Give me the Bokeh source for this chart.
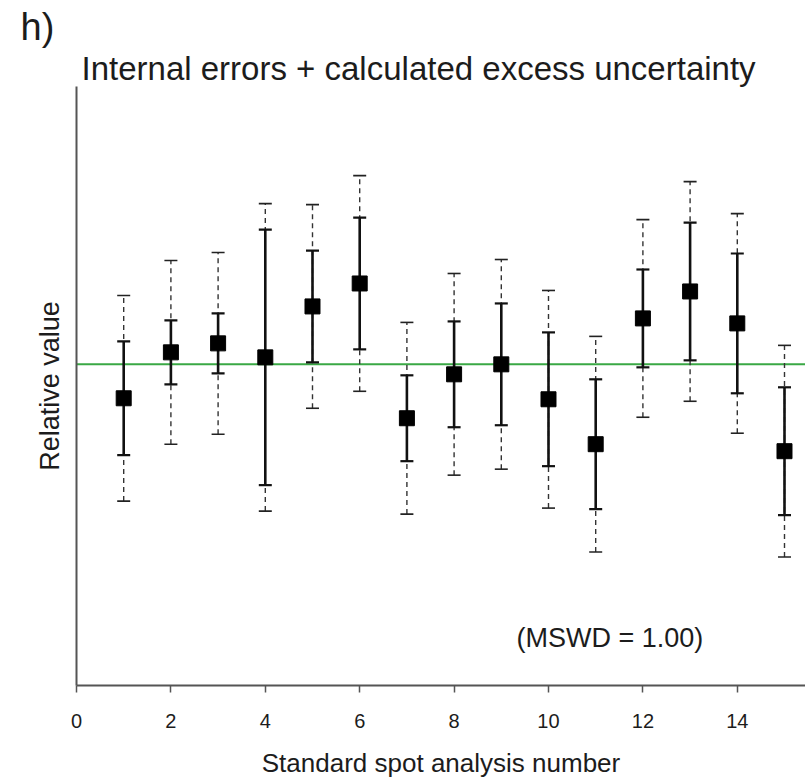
import math
from bokeh.plotting import figure
from bokeh.models import Label, Span, FixedTicker, ColumnDataSource, Range1d, Title
from bokeh.embed import file_html
from bokeh.resources import INLINE

# ---- data ----
spot = list(range(1, 16))
value = [0.966, 1.012, 1.021, 1.007, 1.058, 1.081, 0.946, 0.990,
         1.000, 0.965, 0.920, 1.046, 1.073, 1.041, 0.913]
internal_err = [0.057, 0.032, 0.030, 0.128, 0.056, 0.066, 0.043, 0.053,
                0.061, 0.067, 0.065, 0.049, 0.069, 0.070, 0.064]
total_err = [0.103, 0.092, 0.091, 0.154, 0.102, 0.108, 0.096, 0.101,
             0.105, 0.109, 0.108, 0.099, 0.110, 0.110, 0.106]
reference_value = 1.0
x_ticks = [0, 2, 4, 6, 8, 10, 12, 14]
title_text = "Internal errors + calculated excess uncertainty"
panel_text = "h)"
x_label = "Standard spot analysis number"
y_label = "Relative value"
mswd_text = "(MSWD = 1.00)"

X_END = 15.445
Y_MIN, Y_MAX = 0.6783, 1.2783

FONT = "Liberation Sans"
TXT = "#1c1c1c"

src = ColumnDataSource(dict(
    x=spot,
    y=value,
    in_lo=[v - e for v, e in zip(value, internal_err)],
    in_hi=[v + e for v, e in zip(value, internal_err)],
    tot_lo=[v - e for v, e in zip(value, total_err)],
    tot_hi=[v + e for v, e in zip(value, total_err)],
))

p = figure(width=805, height=780, output_backend="svg", toolbar_location=None,
           title=None,
           x_range=Range1d(0, X_END), y_range=Range1d(Y_MIN, Y_MAX),
           min_border_left=76, min_border_right=0, min_border_top=86,
           min_border_bottom=94)
p.outline_line_color = None
p.xgrid.visible = False
p.ygrid.visible = False
p.background_fill_color = "white"
p.border_fill_color = "white"

# titles (first added sits nearest the frame)
p.add_layout(Title(text=title_text, text_font=FONT, text_font_size="33px",
                   text_font_style="normal", text_color=TXT, align="left",
                   offset=5, standoff=0), "above")
p.add_layout(Title(text=panel_text, text_font=FONT, text_font_size="38px",
                   text_font_style="normal", text_color=TXT, align="left",
                   offset=-56, standoff=0), "above")

# x axis
p.xaxis.ticker = FixedTicker(ticks=x_ticks)
p.xaxis.minor_tick_line_color = None
p.xaxis.major_tick_in = 0
p.xaxis.major_tick_out = 7
p.xaxis.major_tick_line_color = "#555555"
p.xaxis.major_tick_line_width = 1.5
p.xaxis.axis_line_color = "#555555"
p.xaxis.axis_line_width = 2
p.xaxis.major_label_text_font = FONT
p.xaxis.major_label_text_font_size = "20px"
p.xaxis.major_label_text_color = TXT
p.xaxis.major_label_standoff = 21
p.xaxis.axis_label = x_label
p.xaxis.axis_label_text_font = FONT
p.xaxis.axis_label_text_font_size = "26px"
p.xaxis.axis_label_text_font_style = "normal"
p.xaxis.axis_label_text_color = TXT
p.xaxis.axis_label_standoff = 17

# y axis
p.yaxis.ticker = FixedTicker(ticks=[])
p.yaxis.minor_tick_line_color = None
p.yaxis.major_tick_line_color = None
p.yaxis.major_tick_out = 0
p.yaxis.major_label_standoff = 0
p.yaxis.axis_line_color = "#555555"
p.yaxis.axis_line_width = 2
p.yaxis.axis_label = y_label
p.yaxis.axis_label_text_font = FONT
p.yaxis.axis_label_text_font_size = "27px"
p.yaxis.axis_label_text_font_style = "normal"
p.yaxis.axis_label_text_color = TXT
p.yaxis.axis_label_standoff = 12

# reference line
p.add_layout(Span(location=reference_value, dimension="width",
                  line_color="#3aa845", line_width=2, level="underlay"))

# total (internal + excess) error bars: dashed
p.segment(x0="x", y0="tot_lo", x1="x", y1="tot_hi", source=src,
          line_color="#333333", line_width=1.4, line_dash="5 4")
p.scatter(x="x", y="tot_hi", source=src, marker="dash", size=13,
          line_color="#222222", line_width=1.6)
p.scatter(x="x", y="tot_lo", source=src, marker="dash", size=13,
          line_color="#222222", line_width=1.6)

# internal error bars: solid
p.segment(x0="x", y0="in_lo", x1="x", y1="in_hi", source=src,
          line_color="#111111", line_width=2.6)
p.scatter(x="x", y="in_hi", source=src, marker="dash", size=13,
          line_color="#111111", line_width=2.2)
p.scatter(x="x", y="in_lo", source=src, marker="dash", size=13,
          line_color="#111111", line_width=2.2)

# points
p.scatter(x="x", y="y", source=src, marker="square", size=15,
          fill_color="black", line_color="black")


def dx(page_x):
    return (page_x - 76) * X_END / 729.0


def dy(page_y):
    return Y_MIN + (686 - page_y) * (Y_MAX - Y_MIN) / 600.0


p.add_layout(Label(x=dx(516), y=dy(638), text=mswd_text, text_font=FONT,
                   text_font_size="27px", text_color=TXT,
                   text_baseline="alphabetic", text_align="left"))

open("out.html", "w").write(file_html(p, INLINE))
